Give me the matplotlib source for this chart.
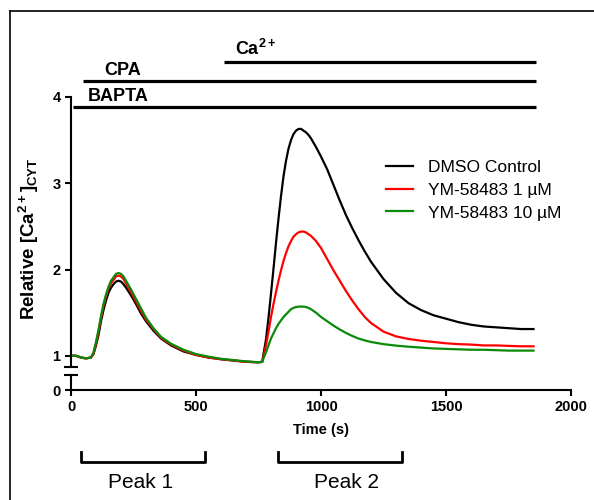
import matplotlib
matplotlib.use("Agg")
import matplotlib.pyplot as plt
from matplotlib.lines import Line2D
import matplotlib.transforms as mtransforms

plt.rcParams['font.family'] = ['Liberation Sans', 'DejaVu Sans']
plt.rcParams['mathtext.default'] = 'regular'

# ---------------- data ----------------
time_s = [0, 20, 40, 60, 80, 90, 100, 110, 120, 130, 140, 150, 160, 170, 180, 190,
          200, 210, 220, 240, 260, 280, 300, 330, 360, 400, 450, 500, 550, 600, 650,
          700, 750, 765, 770, 780, 790, 800, 810, 820, 830, 840, 850, 860, 870, 880, 890,
          900, 910, 920, 930, 940, 950, 960, 980, 1000, 1025, 1050, 1075, 1100, 1125,
          1150, 1175, 1200, 1250, 1300, 1350, 1400, 1450, 1500, 1550, 1600, 1650,
          1700, 1750, 1800, 1850]

dmso = [1.00, 1.00, 0.98, 0.97, 0.98, 1.02, 1.12, 1.24, 1.40, 1.53, 1.64, 1.73, 1.79, 1.83, 1.86, 1.87,
        1.86, 1.83, 1.79, 1.70, 1.60, 1.49, 1.40, 1.29, 1.20, 1.12, 1.05, 1.01, 0.98, 0.96, 0.945,
        0.93, 0.925, 0.93, 1.02, 1.19, 1.44, 1.72, 2.01, 2.31, 2.59, 2.85, 3.08, 3.26, 3.40, 3.50, 3.57,
        3.61, 3.63, 3.63, 3.61, 3.59, 3.56, 3.52, 3.42, 3.31, 3.16, 2.98, 2.80, 2.63, 2.48,
        2.34, 2.21, 2.09, 1.89, 1.73, 1.61, 1.53, 1.47, 1.43, 1.39, 1.36, 1.34,
        1.33, 1.32, 1.31, 1.31]

ym_1uM = [1.00, 1.00, 0.98, 0.97, 0.98, 1.03, 1.14, 1.28, 1.44, 1.58, 1.69, 1.78, 1.84, 1.88, 1.92, 1.93,
          1.92, 1.89, 1.84, 1.74, 1.63, 1.52, 1.42, 1.31, 1.21, 1.13, 1.06, 1.01, 0.98, 0.96, 0.945,
          0.93, 0.925, 0.93, 0.99, 1.12, 1.28, 1.45, 1.60, 1.74, 1.87, 1.99, 2.10, 2.19, 2.27, 2.33, 2.38,
          2.41, 2.43, 2.44, 2.44, 2.43, 2.41, 2.39, 2.33, 2.25, 2.12, 1.99, 1.87, 1.75, 1.64,
          1.54, 1.45, 1.38, 1.28, 1.225, 1.195, 1.175, 1.16, 1.145, 1.135, 1.13, 1.12,
          1.12, 1.115, 1.11, 1.11]

ym_10uM = [1.00, 1.00, 0.98, 0.97, 0.98, 1.04, 1.16, 1.30, 1.46, 1.60, 1.71, 1.80, 1.87, 1.91, 1.95, 1.96,
           1.95, 1.92, 1.87, 1.77, 1.66, 1.55, 1.44, 1.32, 1.22, 1.14, 1.07, 1.02, 0.99, 0.965, 0.95,
           0.935, 0.925, 0.93, 0.97, 1.04, 1.12, 1.20, 1.26, 1.32, 1.37, 1.41, 1.45, 1.48, 1.51, 1.54, 1.555,
           1.565, 1.57, 1.57, 1.57, 1.565, 1.555, 1.54, 1.50, 1.45, 1.40, 1.35, 1.305, 1.265, 1.23,
           1.20, 1.178, 1.16, 1.135, 1.118, 1.105, 1.095, 1.085, 1.08, 1.075, 1.07, 1.07,
           1.065, 1.06, 1.06, 1.06]

series_labels = ['DMSO Control', 'YM-58483 1 \u00b5M', 'YM-58483 10 \u00b5M']
series_colors = ['#000000', '#ff0000', '#0a8a0a']

x_ticks = [0, 500, 1000, 1500, 2000]
y_ticks_upper = [1, 2, 3, 4]

# treatment bars
bar_labels = ['BAPTA', 'CPA', 'Ca$^{2+}$']
bar_start = [8, 48, 612]
bar_end = [1860, 1860, 1860]
bar_level = [3.88, 4.18, 4.41]
bar_label_x = [188, 205, 740]
bar_label_y = [3.95, 4.26, 4.49]

peak_labels = ['Peak 1', 'Peak 2']
peak_start = [40, 828]
peak_end = [536, 1324]
peak_text_x = [280, 1100]

# ---------------- figure ----------------
W, H = 594, 500
fig = plt.figure(figsize=(W / 100, H / 100), dpi=100)

def fx(px):
    return px / W

def fy(py):
    return 1 - py / H

left = fx(71)
width = fx(571) - fx(71)
ax = fig.add_axes([left, fy(367), width, fy(97) - fy(367)])
axl = fig.add_axes([left, fy(390), width, fy(375) - fy(390)])

lw_sp = 1.5
for a in (ax, axl):
    for s in ('top', 'right'):
        a.spines[s].set_visible(False)
    a.spines['left'].set_linewidth(lw_sp)
    a.tick_params(axis='both', direction='out', width=lw_sp, length=4,
                  labelsize=10.5)
    a.set_xlim(0, 2000)

ax.spines['bottom'].set_visible(False)
ax.tick_params(axis='x', bottom=False, labelbottom=False)
ax.set_ylim(0.87, 4.0)
ax.set_yticks(y_ticks_upper)
ax.set_yticklabels([str(v) for v in y_ticks_upper], fontweight='bold')

axl.spines['bottom'].set_linewidth(lw_sp)
axl.set_ylim(0, 0.17)
axl.set_yticks([0])
axl.set_yticklabels(['0'], fontweight='bold')
axl.set_xticks(x_ticks)
axl.set_xticklabels([str(v) for v in x_ticks], fontweight='bold')
axl.patch.set_alpha(0)

# axis-break marks
ax.plot([0], [0], transform=ax.transAxes, marker='_', ms=10, mew=1.5,
        color='k', clip_on=False)
axl.plot([0], [1], transform=axl.transAxes, marker='_', ms=10, mew=1.5,
         color='k', clip_on=False)

# traces
for vals, lab, col in zip([dmso, ym_1uM, ym_10uM], series_labels, series_colors):
    ax.plot(time_s, vals, color=col, lw=1.6, label=lab, clip_on=False)

ax.set_ylabel('Relative [Ca$^{2+}$]$_{CYT}$', fontsize=13.5, fontweight='bold')
ax.yaxis.set_label_coords(fx(41), (fy(153) + fy(325)) / 2, transform=fig.transFigure)

axl.set_xlabel('Time (s)', fontsize=10.5, fontweight='bold', labelpad=6)

# treatment bars
for lab, s, e, lv, tx, ty in zip(bar_labels, bar_start, bar_end, bar_level,
                                  bar_label_x, bar_label_y):
    ax.plot([s, e], [lv, lv], color='k', lw=2.3, clip_on=False, solid_capstyle='butt')
    ax.text(tx, ty, lab, ha='center', va='baseline', fontsize=13,
            fontweight='bold', clip_on=False)

# legend
ax.legend(loc='center left', bbox_to_anchor=(fx(386), fy(190)),
          bbox_transform=fig.transFigure, frameon=False, fontsize=12.5,
          handlelength=1.55, handletextpad=0.85, labelspacing=0.45,
          borderpad=0, borderaxespad=0)

# peak brackets
trans = mtransforms.blended_transform_factory(axl.transData, fig.transFigure)
for lab, s, e, tx in zip(peak_labels, peak_start, peak_end, peak_text_x):
    fig.add_artist(Line2D([s, s, e, e], [fy(452), fy(462), fy(462), fy(452)],
                          transform=trans, color='k', lw=2.0))
    fig.text(tx, fy(483), lab, transform=trans, ha='center', va='center',
             fontsize=15)

# panel frame
fig.add_artist(Line2D([fx(10), fx(10)], [0, fy(11)], color='k', lw=1.2,
                      transform=fig.transFigure))
fig.add_artist(Line2D([fx(10), 1], [fy(11), fy(11)], color='k', lw=1.2,
                      transform=fig.transFigure))

fig.savefig('out.png', dpi=100)
